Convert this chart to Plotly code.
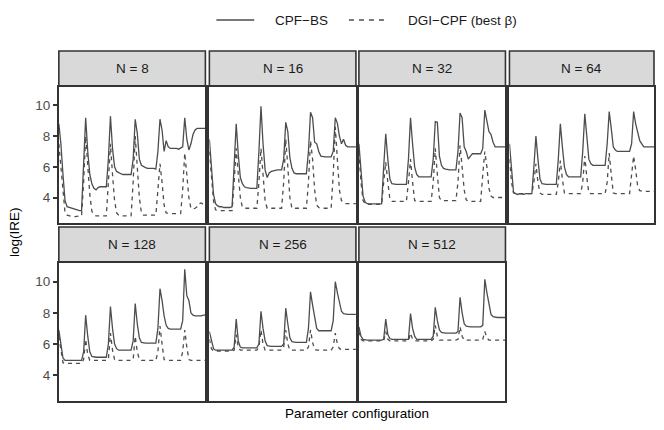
import plotly.graph_objects as go

# ---- data: log(IRE) per parameter configuration (6 blocks of 12 configs) ----
panel_labels = ["N = 8", "N = 16", "N = 32", "N = 64", "N = 128", "N = 256", "N = 512"]
series_names = ["CPF\u2212BS", "DGI\u2212CPF (best \u03b2)"]
config = list(range(1, 73))

cpf_bs_8 = [8.8, 7.5, 5.5, 3.8, 3.4, 3.35, 3.3, 3.25, 3.2, 3.2, 3.15, 3.15,
            6.5, 9.2, 7.0, 5.5, 4.9, 4.6, 4.5, 4.65, 4.7, 4.7, 4.7, 4.7,
            6.5, 9.3, 7.2, 6.0, 5.7, 5.6, 5.55, 5.5, 5.5, 5.5, 5.5, 5.5,
            6.5, 9.1, 8.2, 6.5, 6.1, 6.0, 5.95, 5.9, 5.9, 5.9, 5.9, 5.85,
            7.0, 9.1, 8.4, 7.0, 7.7, 7.3, 7.2, 7.2, 7.2, 7.2, 7.15, 7.2,
            7.3, 9.2, 7.8, 7.1, 7.5, 8.1, 8.4, 8.5, 8.5, 8.5, 8.5, 8.5]
dgi_8 = [7.5, 6.0, 4.5, 3.0, 2.85, 2.8, 2.75, 2.75, 2.75, 2.8, 2.8, 2.8,
         5.0, 8.0, 6.0, 4.2, 3.1, 2.9, 2.8, 2.8, 2.8, 2.8, 2.8, 2.8,
         5.0, 7.5, 5.5, 3.8, 3.0, 2.85, 2.8, 2.8, 2.8, 2.8, 2.8, 2.8,
         5.0, 8.0, 6.0, 4.0, 3.0, 2.85, 2.85, 2.85, 2.85, 2.85, 2.85, 2.85,
         4.5, 6.2, 5.0, 3.5, 3.0, 2.95, 2.95, 2.95, 2.95, 2.95, 2.95, 2.95,
         4.5, 6.9, 5.5, 4.0, 3.3, 3.25, 3.3, 3.4, 3.6, 3.65, 3.55, 3.55]

cpf_bs_16 = [7.8, 6.0, 4.2, 3.6, 3.45, 3.4, 3.4, 3.35, 3.35, 3.35, 3.35, 3.4,
             6.5, 8.8, 6.8, 5.3, 4.9, 4.7, 4.65, 4.6, 4.6, 4.6, 4.6, 4.6,
             7.0, 9.95, 7.5, 5.8, 5.3, 5.6, 5.7, 5.75, 5.8, 5.8, 5.8, 5.8,
             6.5, 8.9, 8.3, 6.6, 5.9, 5.6, 5.55, 5.55, 5.55, 5.55, 5.55, 5.55,
             7.0, 9.55, 9.2, 7.6, 7.5, 7.0, 6.7, 6.65, 6.65, 6.65, 6.65, 6.65,
             7.0, 9.2, 8.85, 8.0, 7.5, 7.8, 7.4, 7.3, 7.3, 7.3, 7.3, 7.3]
dgi_16 = [7.0, 5.5, 3.8, 3.2, 3.15, 3.15, 3.15, 3.15, 3.15, 3.15, 3.15, 3.15,
          5.0, 7.2, 5.5, 4.0, 3.35, 3.3, 3.3, 3.3, 3.3, 3.3, 3.3, 3.3,
          5.0, 7.2, 5.5, 3.8, 3.3, 3.3, 3.3, 3.3, 3.3, 3.3, 3.3, 3.3,
          5.0, 7.8, 6.0, 4.0, 3.3, 3.3, 3.3, 3.3, 3.3, 3.3, 3.3, 3.3,
          5.0, 7.7, 6.5, 4.5, 3.5, 3.35, 3.3, 3.3, 3.3, 3.3, 3.3, 3.3,
          5.5, 8.6, 6.5, 4.5, 3.8, 3.7, 3.6, 3.6, 3.6, 3.6, 3.6, 3.6]

cpf_bs_32 = [7.5, 5.8, 4.1, 3.7, 3.6, 3.58, 3.58, 3.58, 3.58, 3.58, 3.58, 3.58,
             6.0, 8.15, 6.5, 5.2, 4.9, 4.85, 4.85, 4.85, 4.85, 4.85, 4.85, 4.85,
             6.5, 9.2, 7.5, 6.0, 5.5, 5.35, 5.35, 5.35, 5.35, 5.35, 5.35, 5.35,
             6.5, 8.95, 8.9, 6.7, 6.1, 5.9, 5.85, 5.8, 5.8, 5.8, 5.8, 5.8,
             7.0, 9.5, 9.2, 7.3, 7.0, 6.5, 6.7, 6.85, 6.85, 6.85, 6.85, 6.85,
             7.2, 9.7, 9.0, 8.3, 8.1, 7.6, 7.3, 7.3, 7.3, 7.3, 7.3, 7.3]
dgi_32 = [7.0, 5.0, 3.8, 3.6, 3.55, 3.55, 3.55, 3.55, 3.55, 3.55, 3.55, 3.55,
          5.0, 6.3, 5.0, 3.9, 3.75, 3.75, 3.75, 3.75, 3.75, 3.75, 3.75, 3.75,
          5.0, 6.5, 5.0, 3.8, 3.75, 3.75, 3.75, 3.75, 3.75, 3.75, 3.75, 3.75,
          5.0, 7.2, 5.5, 4.0, 3.8, 3.8, 3.8, 3.8, 3.8, 3.8, 3.8, 3.8,
          5.0, 7.4, 6.0, 4.5, 3.85, 3.75, 3.75, 3.75, 3.75, 3.75, 3.75, 3.75,
          5.5, 7.0, 6.0, 4.6, 4.1, 4.0, 4.0, 4.0, 4.0, 4.0, 4.0, 4.0]

cpf_bs_64 = [7.5, 5.8, 4.35, 4.25, 4.2, 4.25, 4.2, 4.2, 4.25, 4.25, 4.25, 4.25,
             6.0, 8.0, 6.5, 5.2, 4.9, 4.85, 4.85, 4.85, 4.85, 4.85, 4.85, 4.85,
             6.5, 8.8, 7.3, 6.0, 5.5, 5.35, 5.35, 5.35, 5.35, 5.35, 5.35, 5.35,
             7.0, 9.45, 8.0, 6.5, 6.2, 6.1, 6.1, 6.1, 6.1, 6.1, 6.1, 6.1,
             7.5, 9.6, 8.5, 7.3, 7.1, 7.0, 7.0, 7.0, 7.0, 7.0, 7.0, 7.0,
             7.5, 9.6, 8.8, 8.2, 7.7, 7.5, 7.3, 7.3, 7.3, 7.3, 7.3, 7.3]
dgi_64 = [6.5, 5.0, 4.3, 4.25, 4.25, 4.25, 4.25, 4.25, 4.25, 4.25, 4.25, 4.25,
          5.0, 6.2, 5.0, 4.3, 4.2, 4.2, 4.2, 4.2, 4.2, 4.2, 4.2, 4.2,
          5.0, 6.4, 5.2, 4.3, 4.25, 4.25, 4.25, 4.25, 4.25, 4.25, 4.25, 4.25,
          5.0, 6.7, 5.3, 4.3, 4.25, 4.25, 4.25, 4.25, 4.25, 4.25, 4.25, 4.25,
          5.0, 6.9, 5.5, 4.3, 4.25, 4.25, 4.25, 4.25, 4.25, 4.25, 4.25, 4.25,
          5.5, 6.7, 5.8, 4.7, 4.45, 4.4, 4.4, 4.4, 4.4, 4.4, 4.4, 4.4]

cpf_bs_128 = [6.9, 6.0, 5.1, 4.95, 4.95, 4.95, 4.95, 4.95, 4.95, 4.95, 4.95, 4.95,
              5.5, 7.85, 6.5, 5.5, 5.2, 5.15, 5.15, 5.15, 5.15, 5.15, 5.15, 5.15,
              6.0, 8.4, 7.0, 6.0, 5.7, 5.6, 5.6, 5.6, 5.6, 5.6, 5.6, 5.6,
              6.2, 8.6, 7.3, 6.4, 6.1, 6.05, 6.05, 6.05, 6.05, 6.05, 6.05, 6.05,
              7.0, 9.55, 8.8, 7.8, 7.2, 7.0, 6.95, 6.95, 6.95, 6.95, 6.95, 6.95,
              7.5, 10.8, 9.1, 8.8, 8.0, 7.85, 7.8, 7.8, 7.8, 7.8, 7.85, 7.85]
dgi_128 = [6.5, 5.5, 4.8, 4.75, 4.75, 4.75, 4.75, 4.75, 4.75, 4.75, 4.75, 4.75,
           5.0, 6.3, 5.3, 4.95, 4.95, 4.95, 4.95, 4.95, 4.95, 4.95, 4.95, 4.95,
           5.0, 6.7, 5.6, 5.0, 4.95, 4.95, 4.95, 4.95, 4.95, 4.95, 4.95, 4.95,
           5.0, 6.5, 5.5, 5.0, 4.95, 4.95, 4.95, 4.95, 4.95, 4.95, 4.95, 4.95,
           5.5, 7.15, 6.0, 5.0, 4.95, 4.95, 4.95, 4.95, 4.95, 4.95, 4.95, 4.95,
           5.5, 6.9, 5.8, 5.0, 4.95, 4.95, 4.95, 4.95, 4.95, 4.95, 4.95, 4.95]

cpf_bs_256 = [6.8, 6.2, 5.7, 5.6, 5.6, 5.6, 5.6, 5.6, 5.6, 5.6, 5.6, 5.6,
              5.8, 7.6, 6.2, 5.8, 5.75, 5.75, 5.75, 5.75, 5.75, 5.75, 5.75, 5.75,
              6.0, 8.1, 7.0, 6.2, 5.9, 5.85, 5.85, 5.85, 5.85, 5.85, 5.85, 5.85,
              6.0, 8.3, 7.3, 6.4, 6.15, 6.1, 6.1, 6.1, 6.1, 6.1, 6.1, 6.1,
              7.0, 9.35, 8.5, 7.6, 7.0, 6.85, 6.85, 6.85, 6.85, 6.85, 6.85, 6.85,
              7.5, 10.0, 9.3, 8.6, 8.1, 7.95, 7.9, 7.9, 7.9, 7.9, 7.9, 7.9]
dgi_256 = [6.3, 5.7, 5.55, 5.55, 5.55, 5.55, 5.55, 5.55, 5.55, 5.55, 5.55, 5.55,
           5.6, 6.6, 5.8, 5.6, 5.6, 5.6, 5.6, 5.6, 5.6, 5.6, 5.6, 5.6,
           5.8, 6.9, 6.0, 5.6, 5.6, 5.6, 5.6, 5.6, 5.6, 5.6, 5.6, 5.6,
           5.8, 6.9, 6.0, 5.6, 5.6, 5.6, 5.6, 5.6, 5.6, 5.6, 5.6, 5.6,
           5.8, 6.9, 6.1, 5.65, 5.6, 5.6, 5.6, 5.6, 5.6, 5.6, 5.6, 5.6,
           5.8, 6.7, 6.0, 5.7, 5.65, 5.65, 5.65, 5.65, 5.65, 5.65, 5.65, 5.65]

cpf_bs_512 = [7.1, 6.5, 6.3, 6.25, 6.25, 6.25, 6.25, 6.25, 6.25, 6.25, 6.25, 6.25,
              6.3, 7.6, 6.6, 6.35, 6.3, 6.3, 6.3, 6.3, 6.3, 6.3, 6.3, 6.3,
              6.3, 7.95, 7.0, 6.5, 6.3, 6.3, 6.3, 6.3, 6.3, 6.3, 6.3, 6.3,
              6.5, 8.35, 7.5, 6.9, 6.75, 6.7, 6.7, 6.7, 6.7, 6.7, 6.7, 6.7,
              6.8, 9.0, 8.0, 7.3, 7.15, 7.1, 7.1, 7.1, 7.1, 7.1, 7.1, 7.1,
              7.2, 10.15, 9.3, 8.5, 7.9, 7.75, 7.7, 7.7, 7.7, 7.7, 7.7, 7.7]
dgi_512 = [6.8, 6.3, 6.2, 6.2, 6.2, 6.2, 6.2, 6.2, 6.2, 6.2, 6.2, 6.2,
           6.2, 6.8, 6.3, 6.2, 6.2, 6.2, 6.2, 6.2, 6.2, 6.2, 6.2, 6.2,
           6.2, 6.7, 6.3, 6.2, 6.2, 6.2, 6.2, 6.2, 6.2, 6.2, 6.2, 6.2,
           6.3, 7.2, 6.5, 6.25, 6.25, 6.25, 6.25, 6.25, 6.25, 6.25, 6.25, 6.25,
           6.3, 7.1, 6.5, 6.25, 6.25, 6.25, 6.25, 6.25, 6.25, 6.25, 6.25, 6.25,
           6.3, 6.8, 6.4, 6.25, 6.25, 6.25, 6.25, 6.25, 6.25, 6.25, 6.25, 6.25]

y_ticks = [4, 6, 8, 10]

solid_series = [cpf_bs_8, cpf_bs_16, cpf_bs_32, cpf_bs_64, cpf_bs_128, cpf_bs_256, cpf_bs_512]
dashed_series = [dgi_8, dgi_16, dgi_32, dgi_64, dgi_128, dgi_256, dgi_512]

# ---- layout geometry, in pixels of the 664x430 window ----
# the page body has an 8px margin: figure sits at (8, 8) and must not overflow
OFF = 8
W, H = 664 - 2 * OFF, 430 - 2 * OFF
cols_px = [(59, 206), (210, 357), (360, 507), (511, 656)]
rows_px = [((51, 86), (87, 223)), ((227, 262), (263, 401))]  # (strip, panel)

def fx(p):
    return min(max((p - OFF) / W, 0), 1)

def fy(p):
    return min(max(1 - (p - OFF) / H, 0), 1)

LINE_COL = "#4D4D4D"
BORDER = "#333333"
FONT = "Liberation Sans, Arial, sans-serif"
FS = 13.5

fig = go.Figure()
shapes = []
annotations = []

for i, label in enumerate(panel_labels):
    r, c = divmod(i, 4)
    (sx0, sx1) = cols_px[c]
    (st, sb), (pt, pb) = rows_px[r]
    n = "" if i == 0 else str(i + 1)
    xa, ya = "x" + n, "y" + n

    fig.add_trace(go.Scatter(x=config, y=solid_series[i], mode="lines", xaxis=xa, yaxis=ya,
                             line=dict(color=LINE_COL, width=1.3), name=series_names[0]))
    fig.add_trace(go.Scatter(x=config, y=dashed_series[i], mode="lines", xaxis=xa, yaxis=ya,
                             line=dict(color=LINE_COL, width=1.3, dash="4px,4px"), name=series_names[1]))

    fig.update_layout(**{
        "xaxis" + n: dict(domain=[fx(sx0), fx(sx1)], anchor=ya, range=[1, 72],
                          showgrid=False, zeroline=False, showticklabels=False, ticks="",
                          showline=True, mirror=True, linecolor=BORDER, linewidth=1.6),
        "yaxis" + n: dict(domain=[fy(pb), fy(pt)], anchor=xa, range=[2.34, 11.2],
                          tickvals=y_ticks, showgrid=False, zeroline=False,
                          showticklabels=(c == 0), ticks="outside" if c == 0 else "",
                          ticklen=4, tickwidth=1.5, tickcolor=BORDER,
                          tickfont=dict(family=FONT, size=FS, color="#4D4D4D"),
                          showline=True, mirror=True, linecolor=BORDER, linewidth=1.6),
    })

    # facet strip
    shapes.append(dict(type="rect", xref="paper", yref="paper",
                       x0=fx(sx0), x1=fx(sx1), y0=fy(sb), y1=fy(st),
                       fillcolor="#D9D9D9", line=dict(color=BORDER, width=1.6), layer="below"))
    annotations.append(dict(text=label, xref="paper", yref="paper",
                            x=fx((sx0 + sx1) / 2), y=fy((st + sb) / 2),
                            showarrow=False, xanchor="center", yanchor="middle",
                            font=dict(family=FONT, size=FS, color="#1A1A1A")))

# axis titles
annotations.append(dict(text="log(IRE)", xref="paper", yref="paper", x=fx(15), y=fy(232),
                        showarrow=False, textangle=-90, xanchor="center", yanchor="middle",
                        font=dict(family=FONT, size=FS, color="black")))
annotations.append(dict(text="Parameter configuration", xref="paper", yref="paper",
                        x=fx(358), y=fy(413), showarrow=False, xanchor="center", yanchor="middle",
                        font=dict(family=FONT, size=FS, color="black")))

# legend at the top (key lines + labels)
shapes.append(dict(type="line", xref="paper", yref="paper", x0=fx(217), x1=fx(255),
                   y0=fy(20), y1=fy(20), line=dict(color=LINE_COL, width=1.3)))
shapes.append(dict(type="line", xref="paper", yref="paper", x0=fx(350), x1=fx(388),
                   y0=fy(20), y1=fy(20), line=dict(color=LINE_COL, width=1.3, dash="5px,5px")))
annotations.append(dict(text=series_names[0], xref="paper", yref="paper", x=fx(274), y=fy(20),
                        showarrow=False, xanchor="left", yanchor="middle",
                        font=dict(family=FONT, size=FS, color="#1A1A1A")))
annotations.append(dict(text=series_names[1], xref="paper", yref="paper", x=fx(407), y=fy(20),
                        showarrow=False, xanchor="left", yanchor="middle",
                        font=dict(family=FONT, size=FS, color="#1A1A1A")))

fig.update_layout(
    width=W, height=H,
    margin=dict(l=0, r=0, t=0, b=0),
    paper_bgcolor="white", plot_bgcolor="white",
    shapes=shapes, annotations=annotations,
    showlegend=False,
)

fig.write_html("out.html")
